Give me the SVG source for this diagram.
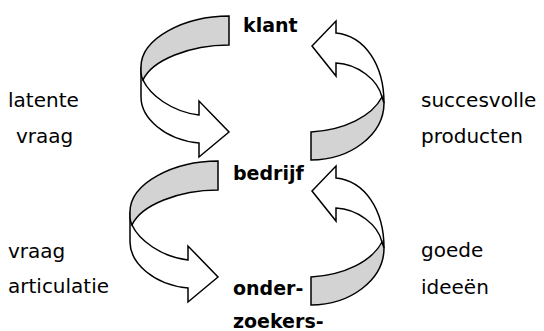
<svg xmlns="http://www.w3.org/2000/svg" xmlns:xlink="http://www.w3.org/1999/xlink" width="544" height="331" viewBox="0 0 544 331">
<style>
.lbl{font-family:"DejaVu Sans",Verdana,sans-serif;font-size:20px;fill:#000}
.node{font-family:"DejaVu Sans",Verdana,sans-serif;font-size:19px;font-weight:bold;fill:#000}
.front{fill:#fff;stroke:#000;stroke-width:1.5;stroke-linejoin:miter}
.back{fill:#d3d3d3;stroke:#000;stroke-width:1.5;stroke-linejoin:miter}
</style>
<defs>
<g id="arrowL">
<path class="front" d="M141,67 L141,97 C141,118 165,140 199,143 L199,157 L229,132 L199,101 L199,115 C172,112 150,95 143,80 Z"/>
<path class="back" d="M229,16 C185,16 141,38 141,67 L141,72 C141,76 142,78 143,80 C152,60 190,45 229,45 Z"/>
</g>
<g id="arrowR">
<path class="front" d="M336,33 L336,21 L312,46 L336,76 L336,63 C358,64 378,80 382,97 L384,103 C384,65 365,36 336,33 Z"/>
<path class="back" d="M311,132 C345,130 372,116 382,97 L384,103 C384,135 350,160 311,160 Z"/>
</g>
</defs>
<rect width="544" height="331" fill="#fff"/>
<g id="connectors">
<use xlink:href="#arrowL"/>
<use xlink:href="#arrowR"/>
<use xlink:href="#arrowL" transform="translate(-11,145)"/>
<use xlink:href="#arrowR" transform="translate(0,145)"/>
</g>
<g id="klant"><text class="node" x="243" y="32">klant</text></g>
<g id="bedrijf"><text class="node" x="233" y="180">bedrijf</text></g>
<g id="onderzoekers"><text class="node" x="233" y="295">onder-</text><text class="node" x="233" y="328">zoekers-</text></g>
<g id="labels">
<text class="lbl" x="8" y="107">latente</text>
<text class="lbl" x="16" y="143">vraag</text>
<text class="lbl" x="421" y="107">succesvolle</text>
<text class="lbl" x="421" y="143">producten</text>
<text class="lbl" x="8" y="258">vraag</text>
<text class="lbl" x="8" y="293">articulatie</text>
<text class="lbl" x="421" y="257">goede</text>
<text class="lbl" x="421" y="294">ideeën</text>
</g>
</svg>
